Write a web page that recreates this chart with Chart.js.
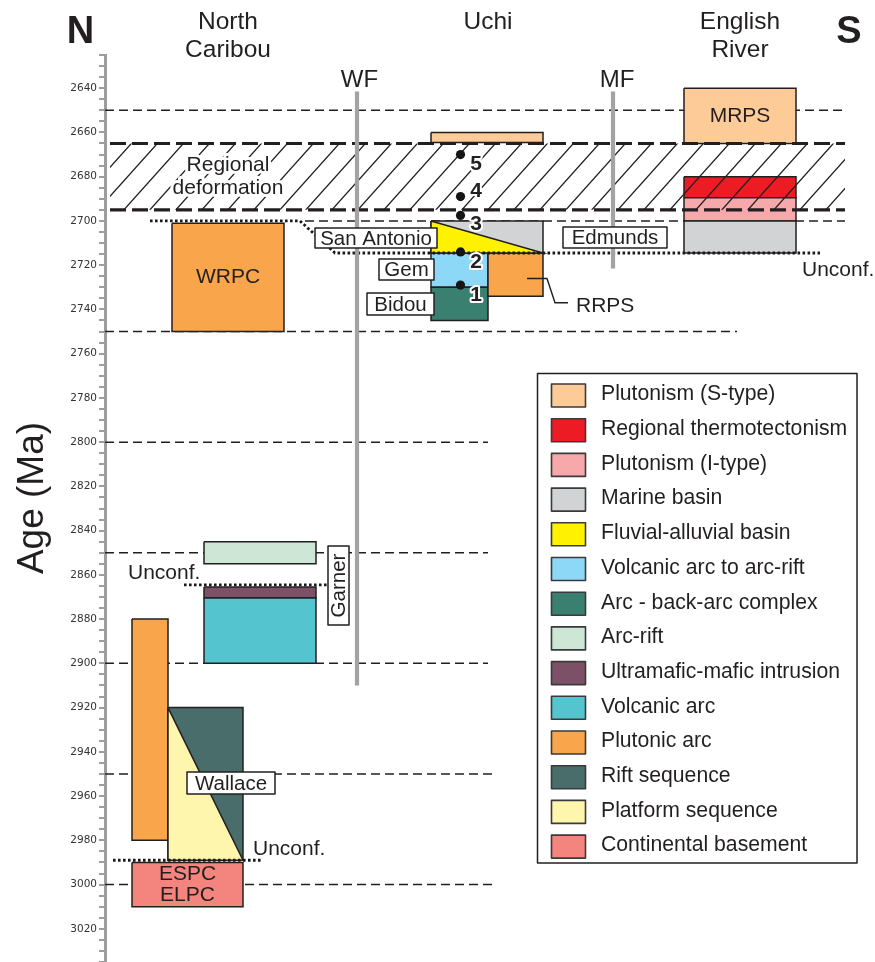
<!DOCTYPE html>
<html>
<head>
<meta charset="utf-8">
<script src="https://cdn.jsdelivr.net/npm/chart.js@4.4.1/dist/chart.umd.min.js"></script>
<style>
  html, body { margin: 0; padding: 0; background: #fff; }
  canvas { display: block; }
</style>
</head>
<body>
<canvas id="c" width="875" height="962" style="width:875px;height:962px"></canvas>
<script>
// ---------- age axis (Ma) ----------
const ageMin = 2625;
const ageMax = 3035;
const ageMinorStep = 5;
const ageTickLabels = [2640, 2660, 2680, 2700, 2720, 2740, 2760, 2780, 2800, 2820, 2840,
                       2860, 2880, 2900, 2920, 2940, 2960, 2980, 3000, 3020];

// ---------- lithology classes ----------
const lithologies = ['Plutonism (S-type)', 'Regional thermotectonism', 'Plutonism (I-type)',
  'Marine basin', 'Fluvial-alluvial basin', 'Volcanic arc to arc-rift', 'Arc - back-arc complex',
  'Arc-rift', 'Ultramafic-mafic intrusion', 'Volcanic arc', 'Plutonic arc', 'Rift sequence',
  'Platform sequence', 'Continental basement'];
const lithologyColors = ['#FDCB98', '#ED1C24', '#F6A8AA', '#D1D3D4', '#FFF200', '#8ED8F7',
  '#3A8070', '#CDE6D6', '#7C5167', '#54C4CF', '#F8A54B', '#486D6B', '#FFF6AE', '#F4847E'];

// ---------- rock units (rectangular) ----------
const unitNames = ['WRPC', 'NC arc-rift', 'NC ultramafic-mafic', 'NC volcanic arc', 'NC plutonic arc',
  'Wallace rift', 'ESPC/ELPC', 'Uchi S-type plutons', 'Uchi marine basin', 'Gem', 'Bidou', 'RRPS',
  'MRPS', 'ER thermotectonism', 'ER I-type plutons', 'ER marine basin'];
const unitLithology = [10, 7, 8, 9, 10, 11, 13, 0, 3, 5, 6, 10, 0, 1, 2, 3];
const unitYoungAge = [2701, 2845, 2865.5, 2870.5, 2880, 2920, 2990, 2660, 2700, 2714.5, 2730, 2714.5, 2640, 2680, 2689.5, 2700];
const unitOldAge   = [2750, 2855, 2870.5, 2900, 2980, 2989, 3010, 2664.5, 2714.5, 2730, 2745, 2734, 2665, 2689.5, 2700, 2714.5];
const unitText     = ['WRPC', '', '', '', '', '', 'ESPC\nELPC', '', '', '', '', '', 'MRPS', '', '', ''];

// ---------- wedge-shaped basins ----------
const wedgeNames = ['San Antonio', 'Wallace platform'];
const wedgeLithology = [4, 12];
const wedgeYoungAge = [2700, 2920];
const wedgeOldAge = [2714.5, 2989];

// ---------- events ----------
const timeLineAges = [2650, 2700, 2750, 2800, 2850, 2900, 2950, 3000];
const deformationAges = [2665, 2695];
const uchiUnconformityAges = [2700, 2700, 2714.5, 2714.5];
const garnerUnconformityAge = 2864.5;
const wallaceUnconformityAge = 2989;
const faultNames = ['WF', 'MF'];
const faultTopAge = [2641.5, 2641.5];
const faultBaseAge = [2910, 2721.5];
const sampleIds = ['1', '2', '3', '4', '5'];
const sampleAges = [2729, 2714, 2697.5, 2689, 2670];

// ---------- section layout (x in section units = canvas px) ----------
const layout = {
  unitX: [[172, 284], [204, 316], [204, 316], [204, 316], [132, 168], [168, 243], [132, 243],
          [431, 543], [431, 543], [431, 488], [431, 488], [488, 543],
          [684, 796], [684, 796], [684, 796], [684, 796]],
  wedgeX: [[431, 543], [168, 243]],
  timeLineX: [[105, 845], [305, 845], [105, 737], [105, 488], [105, 488], [105, 488], [105, 494], [105, 494]],
  bandX: [110, 845],
  uchiUnconformityX: [150, 300, 335, 820],
  garnerUnconformityX: [184, 328],
  wallaceUnconformityX: [113, 262],
  faultX: [357, 613],
  faultLabelX: [359.5, 617],
  sampleX: 460.5,
  sampleLabelDx: 15.5,
  sampleLabelDy: [10, 10, 9, -5, 10],
  rrpsLeader: [[527, 2726], [547, 2726], [555, 2737], [568, 2737]],
  nameBoxes: [
    { text: 'San Antonio', x: 376, age: 2707.7, w: 122, h: 20 },
    { text: 'Gem', x: 406.5, age: 2722, w: 55, h: 21 },
    { text: 'Bidou', x: 400.5, age: 2737.6, w: 67, h: 22 },
    { text: 'Edmunds', x: 615, age: 2707.5, w: 104, h: 21 },
    { text: 'Wallace', x: 231, age: 2954.1, w: 88, h: 22 },
    { text: 'Garner', x: 338.5, age: 2864.8, w: 79, h: 21, rotate: true }
  ],
  notes: [
    { text: 'Unconf.', x: 128, age: 2859.4, align: 'left' },
    { text: 'Unconf.', x: 253, age: 2984.1, align: 'left' },
    { text: 'Unconf.', x: 802, age: 2722.4, align: 'left' },
    { text: 'RRPS', x: 576, age: 2738.6, align: 'left' }
  ]
};

const ink = '#231F20';
const sans = "'Liberation Sans', Arial, Helvetica, sans-serif";
const fontOf = (size, weight) => `${weight || 'normal'} ${size}px ${sans}`;

// diagonal hatching for the regional deformation interval
const canvas = document.getElementById('c');
function makeHatch() {
  const w = 26, h = 29;
  const tile = document.createElement('canvas');
  tile.width = w; tile.height = h;
  const g = tile.getContext('2d');
  g.strokeStyle = ink;
  g.lineWidth = 1.3;
  g.beginPath();
  g.moveTo(-w * 0.1, h * 1.1); g.lineTo(w * 1.1, -h * 0.1);
  g.moveTo(-w * 0.1, h * 0.1); g.lineTo(w * 0.1, -h * 0.1);
  g.moveTo(w * 0.9, h * 1.1); g.lineTo(w * 1.1, h * 0.9);
  g.stroke();
  return canvas.getContext('2d').createPattern(tile, 'repeat');
}

// ---------- datasets, listed bottom layer first ----------
const datasets = [];
function add(ds) {
  datasets.push(Object.assign({
    type: 'line', pointRadius: 0, pointHoverRadius: 0, tension: 0, fill: false,
    borderCapStyle: 'butt', borderJoinStyle: 'miter', borderColor: ink, borderWidth: 1.5
  }, ds));
}
const rectPts = (x0, x1, a, b) => [{x: x0, y: a}, {x: x1, y: a}, {x: x1, y: b}, {x: x0, y: b}, {x: x0, y: a}];

timeLineAges.forEach((age, i) => {
  const [x0, x1] = layout.timeLineX[i];
  add({ label: age + ' Ma', data: [{x: x0, y: age}, {x: x1, y: age}], borderWidth: 1.5, borderDash: [9, 5] });
});

unitNames.forEach((name, i) => {
  const [x0, x1] = layout.unitX[i];
  add({ label: name, data: rectPts(x0, x1, unitYoungAge[i], unitOldAge[i]),
        fill: 'shape', backgroundColor: lithologyColors[unitLithology[i]] });
});

wedgeNames.forEach((name, i) => {
  const [x0, x1] = layout.wedgeX[i];
  const a = wedgeYoungAge[i], b = wedgeOldAge[i];
  add({ label: name, data: [{x: x0, y: a}, {x: x1, y: b}, {x: x0, y: b}, {x: x0, y: a}],
        fill: 'shape', backgroundColor: lithologyColors[wedgeLithology[i]] });
});

add({ label: 'Regional deformation',
      data: rectPts(layout.bandX[0], layout.bandX[1], deformationAges[0], deformationAges[1]),
      fill: 'shape', backgroundColor: makeHatch(), borderColor: 'rgba(0,0,0,0)', borderWidth: 0.01 });
deformationAges.forEach(age => {
  add({ label: 'deformation limit', data: [{x: layout.bandX[0], y: age}, {x: layout.bandX[1], y: age}],
        borderWidth: 3.2, borderDash: [16, 6] });
});

const dotted = { borderWidth: 2.8, borderDash: [2.6, 2.4], borderColor: '#1a1a1a' };
add(Object.assign({ label: 'Uchi unconformity',
  data: uchiUnconformityAges.map((a, i) => ({x: layout.uchiUnconformityX[i], y: a})) }, dotted));
add(Object.assign({ label: 'Garner unconformity',
  data: layout.garnerUnconformityX.map(x => ({x, y: garnerUnconformityAge})) }, dotted));
add(Object.assign({ label: 'Wallace unconformity',
  data: layout.wallaceUnconformityX.map(x => ({x, y: wallaceUnconformityAge})) }, dotted));

faultNames.forEach((name, i) => {
  add({ label: name, data: [{x: layout.faultX[i], y: faultTopAge[i]}, {x: layout.faultX[i], y: faultBaseAge[i]}],
        borderColor: '#a3a3a3', borderWidth: 4.2 });
});

add({ label: 'RRPS leader', data: layout.rrpsLeader.map(([x, y]) => ({x, y})), borderWidth: 1.4 });

add({ label: 'samples', data: sampleAges.map(a => ({x: layout.sampleX, y: a})), showLine: false,
      pointRadius: 4.6, pointBackgroundColor: '#151515', pointBorderColor: '#151515', pointBorderWidth: 0 });

datasets.forEach((ds, i) => { ds.order = -i; });

// ---------- text, label boxes, legend ----------
function text(ctx, str, x, y, o) {
  ctx.font = fontOf(o.size, o.weight);
  ctx.textAlign = o.align || 'center';
  ctx.textBaseline = o.baseline || 'middle';
  if (o.halo) {
    ctx.lineWidth = o.halo; ctx.strokeStyle = '#fff'; ctx.lineJoin = 'round';
    ctx.strokeText(str, x, y);
  }
  ctx.fillStyle = o.color || ink;
  ctx.fillText(str, x, y);
}

const sectionLabels = {
  id: 'sectionLabels',
  afterDatasetsDraw(chart) {
    const { ctx, scales: { x, y } } = chart;
    const px = v => x.getPixelForValue(v);
    const py = a => y.getPixelForValue(a);
    ctx.save();

    // labels inside units
    unitText.forEach((t, i) => {
      if (!t) return;
      const cx = px((layout.unitX[i][0] + layout.unitX[i][1]) / 2);
      const cy = py((unitYoungAge[i] + unitOldAge[i]) / 2);
      const lines = t.split('\n');
      lines.forEach((ln, k) => text(ctx, ln, cx, cy + (k - (lines.length - 1) / 2) * 21, { size: 21 }));
    });

    // regional deformation caption
    const bx = px((172 + 284) / 2);
    text(ctx, 'Regional', bx, py(2674.8), { size: 21, halo: 6 });
    text(ctx, 'deformation', bx, py(2685.1), { size: 21, halo: 6 });

    // fault names
    faultNames.forEach((n, i) => text(ctx, n, px(layout.faultLabelX[i]), py(faultTopAge[i]) - 5,
      { size: 24, baseline: 'alphabetic' }));

    // formation name boxes
    layout.nameBoxes.forEach(b => {
      const cx = px(b.x), cy = py(b.age);
      ctx.save();
      ctx.translate(cx, cy);
      if (b.rotate) ctx.rotate(-Math.PI / 2);
      ctx.fillStyle = '#fff';
      ctx.strokeStyle = ink;
      ctx.lineWidth = 1.5;
      ctx.fillRect(-b.w / 2, -b.h / 2, b.w, b.h);
      ctx.strokeRect(-b.w / 2, -b.h / 2, b.w, b.h);
      text(ctx, b.text, 0, 1, { size: 20.5 });
      ctx.restore();
    });

    // free notes
    layout.notes.forEach(n => text(ctx, n.text, px(n.x), py(n.age), { size: 21, align: n.align }));

    // sample numbers
    sampleIds.forEach((id, i) => text(ctx, id, px(layout.sampleX + layout.sampleLabelDx),
      py(sampleAges[i]) + layout.sampleLabelDy[i], { size: 21, weight: 'bold', halo: 4 }));

    // legend
    ctx.strokeStyle = ink;
    ctx.lineWidth = 1.5;
    ctx.fillStyle = '#fff';
    ctx.fillRect(537.5, 373.5, 319.5, 489.5);
    ctx.strokeRect(537.5, 373.5, 319.5, 489.5);
    lithologies.forEach((name, i) => {
      const cy = 395.5 + i * 34.7;
      ctx.fillStyle = lithologyColors[i];
      ctx.fillRect(551.5, cy - 11.5, 34, 23);
      ctx.strokeStyle = '#3a3a3a';
      ctx.lineWidth = 1.6;
      ctx.strokeRect(551.5, cy - 11.5, 34, 23);
      text(ctx, name, 601, cy - 1, { size: 21.2, align: 'left' });
    });
    ctx.restore();
  },
  afterDraw(chart) {
    const { ctx } = chart;
    ctx.save();
    text(ctx, 'N', 80.5, 43, { size: 38, weight: 'bold', baseline: 'alphabetic' });
    text(ctx, 'S', 849, 43, { size: 38, weight: 'bold', baseline: 'alphabetic' });
    text(ctx, 'North', 228, 29, { size: 24.5, baseline: 'alphabetic' });
    text(ctx, 'Caribou', 228, 57, { size: 24.5, baseline: 'alphabetic' });
    text(ctx, 'Uchi', 488, 29, { size: 24.5, baseline: 'alphabetic' });
    text(ctx, 'English', 740, 29, { size: 24.5, baseline: 'alphabetic' });
    text(ctx, 'River', 740, 57, { size: 24.5, baseline: 'alphabetic' });
    ctx.translate(43, 498);
    ctx.rotate(-Math.PI / 2);
    text(ctx, 'Age (Ma)', 0, 0, { size: 37, baseline: 'alphabetic' });
    ctx.restore();
  }
};

new Chart(canvas, {
  type: 'line',
  data: { datasets },
  plugins: [sectionLabels],
  options: {
    responsive: false,
    maintainAspectRatio: false,
    devicePixelRatio: 1,
    animation: false,
    events: [],
    layout: { autoPadding: false, padding: { top: 55, left: 0, right: 0, bottom: 0 } },
    plugins: {
      legend: { display: false },
      tooltip: { enabled: false },
      filler: { propagate: false }
    },
    scales: {
      x: { type: 'linear', min: 105, max: 875, display: false },
      y: {
        type: 'linear',
        reverse: true,
        min: ageMin,
        max: ageMax,
        afterBuildTicks: s => {
          const t = [];
          for (let v = ageMin; v <= ageMax; v += ageMinorStep) t.push({ value: v });
          s.ticks = t;
        },
        afterFit: s => { s.width = 105; s.paddingTop = 0; s.paddingBottom = 0; },
        ticks: {
          autoSkip: false,
          padding: 2,
          color: '#333',
          font: { family: "'DejaVu Sans', Verdana, sans-serif", size: 10.5 },
          callback: v => ageTickLabels.includes(v) ? String(v) : ''
        },
        grid: { drawOnChartArea: false, drawTicks: true, tickLength: 6, color: '#9d9d9d', lineWidth: 2 },
        border: { display: true, color: '#9d9d9d', width: 3 }
      }
    }
  }
});
</script>
</body>
</html>
